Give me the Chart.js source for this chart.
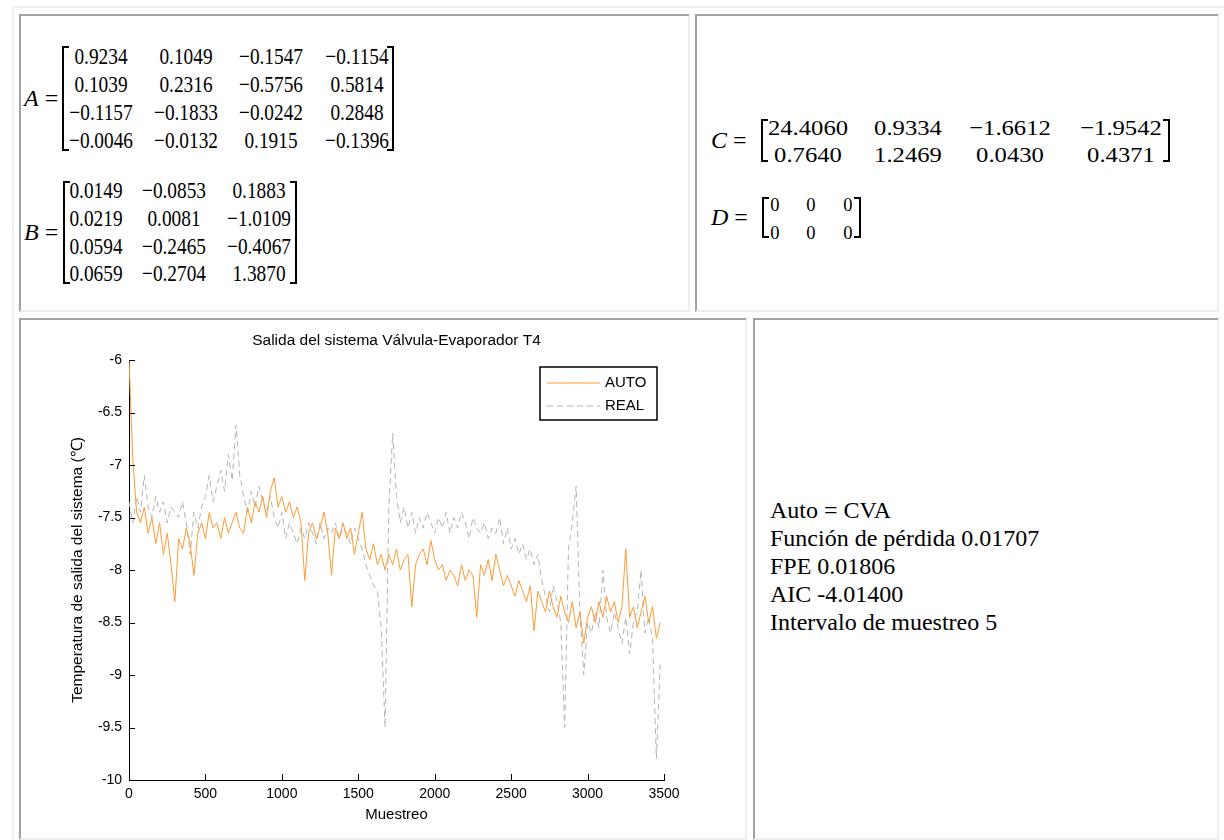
<!DOCTYPE html>
<html>
<head>
<meta charset="utf-8">
<script src="https://cdn.jsdelivr.net/npm/chart.js@4/dist/chart.umd.min.js"></script>
<style>
  body { margin: 0; background: #fff; width: 1224px; height: 840px; overflow: hidden; position: relative; font-family: "Liberation Serif", serif; color: #000; }
  .outer { position: absolute; left: 12px; top: 6px; width: 1300px; height: 900px; border-top: 2px solid #f0f0f0; border-left: 2px solid #f0f0f0; }
  .cell { position: absolute; box-sizing: border-box; border: 2px solid; border-color: #a0a0a8 #ededed #ededed #a0a0a8; }
  .m { position: absolute; white-space: nowrap; transform-origin: center; }
  .br { position: absolute; box-sizing: border-box; border: 0 solid #000; }
  #info { position: absolute; left: 770px; top: 496px; font-size: 24px; line-height: 28px; }
  #grafico { position: absolute; left: 21px; top: 320px; }
</style>
</head>
<body>
<div class="outer"></div>
<div class="cell" style="left:19px;top:14px;width:671px;height:298px"></div>
<div class="cell" style="left:695px;top:14px;width:524px;height:298px"></div>
<div class="cell" style="left:19px;top:318px;width:728px;height:522px"></div>
<div class="cell" style="left:753px;top:318px;width:466px;height:522px"></div>

<div id="info">Auto = CVA<br>Función de pérdida 0.01707<br>FPE 0.01806<br>AIC -4.01400<br>Intervalo de muestreo 5</div>

<canvas id="grafico" width="724" height="518"></canvas>

<script>
// matrices del modelo
var matA = [
  ['0.9234', '0.1049', '−0.1547', '−0.1154'],
  ['0.1039', '0.2316', '−0.5756', '0.5814'],
  ['−0.1157', '−0.1833', '−0.0242', '0.2848'],
  ['−0.0046', '−0.0132', '0.1915', '−0.1396']
];
var matB = [
  ['0.0149', '−0.0853', '0.1883'],
  ['0.0219', '0.0081', '−1.0109'],
  ['0.0594', '−0.2465', '−0.4067'],
  ['0.0659', '−0.2704', '1.3870']
];
var matC = [
  ['24.4060', '0.9334', '−1.6612', '−1.9542'],
  ['0.7640', '1.2469', '0.0430', '0.4371']
];
var matD = [
  ['0', '0', '0'],
  ['0', '0', '0']
];

// datos de la grafica
var titulo = 'Salida del sistema Válvula-Evaporador T4';
var muestras = [0, 25, 50, 75, 100, 125, 150, 175, 200, 225, 250, 275, 300, 325, 350, 375, 400, 425, 450, 475,
  500, 525, 550, 575, 600, 625, 650, 675, 700, 725, 750, 775, 800, 825, 850, 875, 900, 925, 950, 975,
  1000, 1025, 1050, 1075, 1100, 1125, 1150, 1175, 1200, 1225, 1250, 1275, 1300, 1325, 1350, 1375, 1400, 1425, 1450, 1475,
  1500, 1525, 1550, 1575, 1600, 1625, 1650, 1675, 1700, 1725, 1750, 1775, 1800, 1825, 1850, 1875, 1900, 1925, 1950, 1975,
  2000, 2025, 2050, 2075, 2100, 2125, 2150, 2175, 2200, 2225, 2250, 2275, 2300, 2325, 2350, 2375, 2400, 2425, 2450, 2475,
  2500, 2525, 2550, 2575, 2600, 2625, 2650, 2675, 2700, 2725, 2750, 2775, 2800, 2825, 2850, 2875, 2900, 2925, 2950, 2975,
  3000, 3025, 3050, 3075, 3100, 3125, 3150, 3175, 3200, 3225, 3250, 3275, 3300, 3325, 3350, 3375, 3400, 3425, 3450, 3475];

var auto = [-6.00, -6.95, -7.45, -7.55, -7.40, -7.65, -7.50, -7.75, -7.55, -7.85, -7.65, -7.95, -8.30, -7.70, -7.80, -7.60, -7.75, -8.05, -7.65, -7.55,
  -7.70, -7.45, -7.60, -7.55, -7.70, -7.50, -7.65, -7.55, -7.45, -7.60, -7.65, -7.40, -7.55, -7.35, -7.45, -7.30, -7.50, -7.25, -7.12, -7.40,
  -7.30, -7.45, -7.35, -7.50, -7.40, -7.55, -8.10, -7.65, -7.55, -7.70, -7.60, -7.45, -7.65, -8.05, -7.60, -7.70, -7.55, -7.70, -7.60, -7.85,
  -7.65, -7.45, -7.80, -7.90, -7.75, -7.95, -7.85, -8.00, -7.85, -7.95, -7.80, -8.00, -7.90, -7.85, -8.35, -7.95, -7.85, -7.80, -7.95, -7.72,
  -7.90, -8.00, -7.95, -8.10, -8.00, -8.05, -8.15, -7.95, -8.10, -8.00, -8.05, -8.45, -7.95, -8.05, -7.90, -8.10, -7.85, -8.00, -8.15, -8.05,
  -8.15, -8.25, -8.10, -8.20, -8.30, -8.15, -8.58, -8.20, -8.30, -8.40, -8.20, -8.35, -8.45, -8.25, -8.40, -8.50, -8.30, -8.55, -8.40, -8.70,
  -8.45, -8.35, -8.50, -8.30, -8.45, -8.25, -8.40, -8.30, -8.50, -8.35, -7.80, -8.45, -8.35, -8.55, -8.40, -8.25, -8.50, -8.35, -8.65, -8.50];

var real = [-7.35, -7.55, -7.30, -7.45, -7.10, -7.40, -7.50, -7.30, -7.45, -7.35, -7.55, -7.40, -7.45, -7.50, -7.35, -7.55, -7.85, -7.45, -7.60, -7.40,
  -7.30, -7.10, -7.35, -7.20, -7.05, -7.25, -6.90, -7.15, -6.62, -7.10, -7.30, -7.45, -7.25, -7.40, -7.20, -7.35, -7.45, -7.30, -7.50, -7.60,
  -7.45, -7.70, -7.55, -7.65, -7.75, -7.60, -7.70, -7.55, -7.65, -7.75, -7.55, -7.70, -7.60, -7.65, -7.55, -7.70, -7.60, -7.65, -7.75, -7.60,
  -7.70, -7.80, -7.95, -8.05, -8.15, -8.20, -8.55, -9.50, -7.40, -6.70, -7.30, -7.55, -7.40, -7.60, -7.45, -7.65, -7.50, -7.60, -7.45, -7.55,
  -7.65, -7.50, -7.60, -7.45, -7.65, -7.50, -7.60, -7.45, -7.55, -7.70, -7.50, -7.60, -7.65, -7.55, -7.70, -7.60, -7.65, -7.50, -7.75, -7.60,
  -7.80, -7.70, -7.85, -7.75, -7.90, -7.80, -7.95, -7.85, -8.10, -8.25, -8.40, -8.15, -8.30, -8.50, -9.50, -7.80, -7.55, -7.20, -8.40, -9.00,
  -8.50, -8.60, -8.40, -8.55, -8.00, -8.45, -8.60, -8.40, -8.55, -8.70, -8.45, -8.80, -8.50, -8.40, -8.00, -8.60, -8.45, -8.65, -9.80, -8.90];

var xTicks = [0, 500, 1000, 1500, 2000, 2500, 3000, 3500];
var yTicks = [-10, -9.5, -9, -8.5, -8, -7.5, -7, -6.5, -6];

// texto de las matrices
function texto(txt, cx, cy, size, sx) {
  var s = document.createElement('span');
  s.className = 'm';
  s.textContent = txt;
  s.style.left = cx + 'px';
  s.style.top = (cy - size / 2) + 'px';
  s.style.fontSize = size + 'px';
  s.style.lineHeight = size + 'px';
  s.style.transform = 'translateX(-50%) scaleX(' + sx + ')';
  document.body.appendChild(s);
}

function corchete(x, y1, y2, lado, w) {
  var d = document.createElement('div');
  d.className = 'br';
  d.style.top = y1 + 'px';
  d.style.height = (y2 - y1) + 'px';
  d.style.width = '7px';
  d.style.borderTopWidth = w + 'px';
  d.style.borderBottomWidth = w + 'px';
  if (lado == 'izq') {
    d.style.left = x + 'px';
    d.style.borderLeftWidth = w + 'px';
  } else {
    d.style.left = (x - 7) + 'px';
    d.style.borderRightWidth = w + 'px';
  }
  document.body.appendChild(d);
}

function matriz(nombre, filas, cols, ys, size, sx, lx, ly, bx1, bx2, by1, by2) {
  filas.forEach(function (f, i) {
    f.forEach(function (v, j) { texto(v, cols[j], ys[i], size, sx); });
  });
  var et = document.createElement('span');
  et.className = 'm';
  et.innerHTML = '<i>' + nombre + '</i> =';
  et.style.left = lx + 'px';
  et.style.top = (ly - 12) + 'px';
  et.style.fontSize = '24px';
  et.style.lineHeight = '24px';
  document.body.appendChild(et);
  corchete(bx1, by1, by2, 'izq', 2);
  corchete(bx2, by1, by2, 'der', 2);
}

matriz('A', matA, [101, 186, 271, 356.5], [56.7, 84, 112, 140], 23, 0.84, 24, 98, 62, 394, 46, 151);
matriz('B', matB, [95.5, 174, 258.5], [190.5, 218.3, 246.2, 273.8], 23, 0.84, 24, 232, 63, 297, 181, 284);
matriz('C', matC, [807.5, 908, 1010, 1120.5], [127.5, 155], 22, 1.12, 711, 140, 761, 1170, 119, 162);
matriz('D', matD, [775, 811, 847.7], [205, 233], 19.5, 0.95, 711, 217, 761.5, 861, 197, 238);

// grafica
var fuente = '"Liberation Sans", Arial, sans-serif';

var marcas = {
  id: 'marcas',
  afterDraw: function (chart) {
    var ctx = chart.ctx, a = chart.chartArea, sx = chart.scales.x, sy = chart.scales.y;
    ctx.save();

    // titulo centrado sobre los ejes
    ctx.fillStyle = '#000';
    ctx.font = '15.5px ' + fuente;
    ctx.textAlign = 'center';
    ctx.textBaseline = 'middle';
    ctx.fillText(titulo, (a.left + a.right) / 2, 21);

    ctx.strokeStyle = '#000';
    ctx.lineWidth = 1;
    ctx.beginPath();
    xTicks.forEach(function (v) {
      var px = Math.round(sx.getPixelForValue(v)) + 0.5;
      ctx.moveTo(px, a.bottom); ctx.lineTo(px, a.bottom - 6);
    });
    yTicks.forEach(function (v) {
      var py = Math.round(sy.getPixelForValue(v)) + 0.5;
      ctx.moveTo(a.left, py); ctx.lineTo(a.left + 6, py);
    });
    ctx.stroke();

    // leyenda
    var bx = a.right - 124, by = a.top + 7, bw = 117, bh = 53;
    ctx.fillStyle = '#fff';
    ctx.fillRect(bx, by, bw, bh);
    ctx.lineWidth = 1.5;
    ctx.strokeRect(bx, by, bw, bh);
    ctx.font = '15px ' + fuente;
    ctx.textAlign = 'left';
    chart.data.datasets.forEach(function (ds, i) {
      var yy = by + 16 + i * 23;
      ctx.beginPath();
      ctx.strokeStyle = ds.borderColor;
      ctx.lineWidth = 1;
      ctx.setLineDash(ds.borderDash || []);
      ctx.moveTo(bx + 7, yy); ctx.lineTo(bx + 60, yy);
      ctx.stroke();
      ctx.setLineDash([]);
      ctx.fillStyle = '#000';
      ctx.fillText(ds.label, bx + 65, yy);
    });
    ctx.restore();
  }
};

new Chart(document.getElementById('grafico').getContext('2d'), {
  type: 'line',
  data: {
    datasets: [{
      label: 'AUTO',
      data: muestras.map(function (m, i) { return { x: m, y: auto[i] }; }),
      borderColor: '#ff9a35',
      borderWidth: 1
    }, {
      label: 'REAL',
      data: muestras.map(function (m, i) { return { x: m, y: real[i] }; }),
      borderColor: '#b4b4b4',
      borderWidth: 1,
      borderDash: [6, 4]
    }]
  },
  options: {
    responsive: false,
    animation: false,
    devicePixelRatio: 1,
    layout: { padding: { left: 0, right: 81, top: 40, bottom: 0 } },
    elements: { point: { radius: 0 }, line: { tension: 0 } },
    plugins: {
      legend: { display: false },
      tooltip: { enabled: false },
      title: { display: false }
    },
    scales: {
      x: {
        type: 'linear', min: 0, max: 3500,
        afterBuildTicks: function (s) { s.ticks = xTicks.map(function (v) { return { value: v }; }); },
        afterFit: function (s) { s.height = 58; },
        grid: { display: false, drawTicks: false },
        border: { display: true, color: '#000', width: 1 },
        ticks: { color: '#000', padding: 6, font: { family: fuente, size: 14 }, maxRotation: 0, callback: function (v) { return String(v); } },
        title: { display: true, text: 'Muestreo', color: '#000', font: { family: fuente, size: 15 }, padding: { top: 0, bottom: 14 } }
      },
      y: {
        type: 'linear', min: -10, max: -6,
        afterBuildTicks: function (s) { s.ticks = yTicks.map(function (v) { return { value: v }; }); },
        afterFit: function (s) { s.width = 108; },
        grid: { display: false, drawTicks: false },
        border: { display: true, color: '#000', width: 1 },
        ticks: { color: '#000', padding: 7, font: { family: fuente, size: 14 }, callback: function (v) { return String(v); } },
        title: { display: true, text: 'Temperatura de salida del sistema (℃)', color: '#000', font: { family: fuente, size: 15.5 }, padding: { top: 47.7, bottom: 0 } }
      }
    }
  },
  plugins: [marcas]
});
</script>
</body>
</html>
